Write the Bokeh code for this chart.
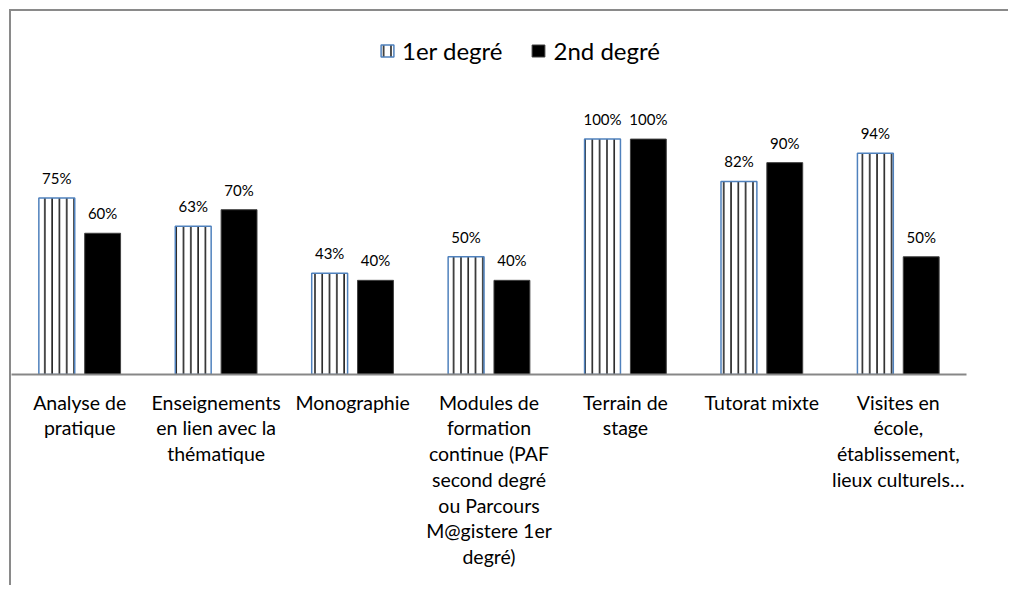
from bokeh.plotting import figure
from bokeh.models import FactorRange, Range1d, Legend, LegendItem, ColumnDataSource
from bokeh.transform import dodge
from bokeh.core.properties import value
from bokeh.embed import file_html
from bokeh.resources import INLINE

# category names, wrapped as in the reference
categories = [
    "Analyse de\npratique",
    "Enseignements\nen lien avec la\nthématique",
    "Monographie",
    "Modules de\nformation\ncontinue (PAF\nsecond degré\nou Parcours\nM@gistere 1er\ndegré)",
    "Terrain de\nstage",
    "Tutorat mixte",
    "Visites en\nécole,\nétablissement,\nlieux culturels…",
]
series_names = ["1er degré", "2nd degré"]
premier = [75, 63, 43, 50, 100, 82, 94]
second = [60, 70, 40, 40, 100, 90, 50]

src = ColumnDataSource(dict(
    cat=categories,
    premier=premier,
    second=second,
    premier_lbl=[f"{v}%" for v in premier],
    second_lbl=[f"{v}%" for v in second],
))

FONT = "Lato"

p = figure(
    x_range=FactorRange(factors=categories, range_padding=0),
    y_range=Range1d(0, 145.7),
    width=999, height=576,
    output_backend="svg", toolbar_location=None,
    y_axis_location=None,
    min_border_left=0, min_border_right=44, min_border_top=20, min_border_bottom=213,
)
p.styles = {"margin-left": "9px", "margin-top": "9px",
            "border-top": "2px solid #8a8a8a", "border-left": "2px solid #8a8a8a"}
p.outline_line_color = None
p.xgrid.grid_line_color = None
p.ygrid.grid_line_color = None
p.background_fill_color = "white"
p.border_fill_color = "white"

OFF = 0.168
W = 0.263
r1 = p.vbar(x=dodge("cat", -OFF, range=p.x_range), top="premier", width=W, source=src,
            fill_color="white", line_color="#4F81BD", line_width=1.5,
            hatch_pattern="vertical_line", hatch_color="#222222", hatch_weight=1.6, hatch_scale=7.3)
r2 = p.vbar(x=dodge("cat", OFF, range=p.x_range), top="second", width=W, source=src,
            fill_color="black", line_color="#404040", line_width=1)

p.text(x=dodge("cat", -OFF, range=p.x_range), y="premier", text="premier_lbl", source=src,
       text_align="center", text_baseline="middle", y_offset=-20,
       text_font=value(FONT), text_font_size="15px", text_color="black")
p.text(x=dodge("cat", OFF, range=p.x_range), y="second", text="second_lbl", source=src,
       text_align="center", text_baseline="middle", y_offset=-20,
       text_font=value(FONT), text_font_size="15px", text_color="black")

ax = p.xaxis[0]
ax.major_tick_line_color = None
ax.minor_tick_line_color = None
ax.axis_line_color = "#878787"
ax.axis_line_width = 2
ax.major_label_text_font = FONT
ax.major_label_text_font_size = "19.5px"
ax.major_label_text_color = "black"
ax.major_label_standoff = 10
ax.major_label_text_line_height = 1.12

legend = Legend(
    items=[LegendItem(label=series_names[0], renderers=[r1]),
           LegendItem(label=series_names[1], renderers=[r2])],
    orientation="horizontal", location=(368, 308),
    border_line_color=None, background_fill_alpha=0,
    padding=0, margin=0, spacing=28, label_standoff=7,
    glyph_width=16, glyph_height=15, label_height=32,
    label_text_font=FONT, label_text_font_size="24px", label_text_color="black",
)
p.add_layout(legend)

open("out.html", "w").write(file_html(p, INLINE))
